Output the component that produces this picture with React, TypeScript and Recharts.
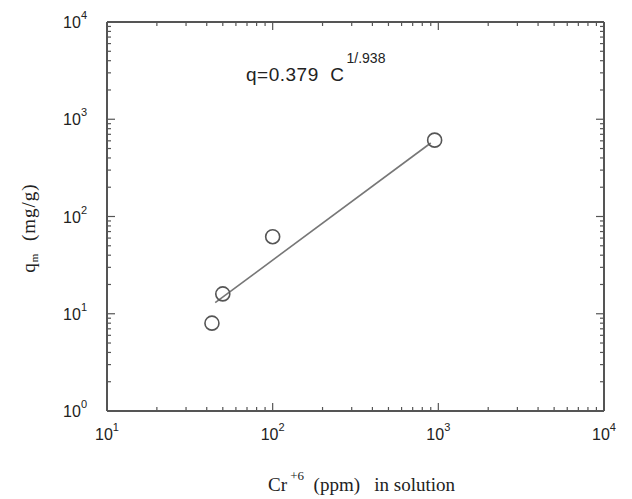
import { Scatter, ScatterChart, XAxis, YAxis } from "recharts";

// measured points (Cr+6 ppm, q mg/g)
const concentration = [43, 50, 100, 950];
const uptake = [8, 16, 62, 610];

// fitted line end points as drawn
const fitC = [45, 900];
const fitQ = [13, 570];

const xMajor = [10, 100, 1000, 10000];
const yMajor = [1, 10, 100, 1000, 10000];
const minorSteps = [2, 3, 4, 5, 6, 7, 8, 9];
const xMinor = [10, 100, 1000].flatMap((d) => minorSteps.map((m) => m * d));
const yMinor = [1, 10, 100, 1000].flatMap((d) => minorSteps.map((m) => m * d));

const points = concentration.map((c, i) => ({ c, q: uptake[i] }));
const fit = fitC.map((c, i) => ({ c, q: fitQ[i] }));

const INK = "#555";
const sans = "'Liberation Sans', Arial, sans-serif";
const serif = "'Liberation Serif', 'Times New Roman', serif";

type Side = "bottom" | "top" | "left" | "right";

// draws the inward tick itself (long for decades, short otherwise) and the 10^n label on bottom/left
const makeTick = (side: Side, majors: number[]) => (props: any) => {
  const { x, y, payload } = props;
  const v = payload.value;
  const major = majors.includes(v);
  const len = major ? 8 : 4;
  const dx = side === "left" ? len : side === "right" ? -len : 0;
  const dy = side === "bottom" ? -len : side === "top" ? len : 0;
  const n = Math.round(Math.log10(v));
  return (
    <g>
      <line x1={x} y1={y} x2={x + dx} y2={y + dy} stroke={INK} strokeWidth={1.2} />
      {major && side === "bottom" && (
        <text x={x} y={y + 29} textAnchor='middle' fontFamily={sans} fontSize={16} fill='#222'>
          10
          <tspan dy={-9} fontSize={11}>
            {n}
          </tspan>
        </text>
      )}
      {major && side === "left" && (
        <text x={x - 20} y={y + 6} textAnchor='end' fontFamily={sans} fontSize={16} fill='#222'>
          10
          <tspan dy={-9} fontSize={11}>
            {n}
          </tspan>
        </text>
      )}
    </g>
  );
};

const Blank = () => <g />;
const Ring = ({ cx, cy }: any) => <circle cx={cx} cy={cy} r={7} fill='none' stroke={INK} strokeWidth={1.6} />;

const xTicks = [...xMajor, ...xMinor];
const yTicks = [...yMajor, ...yMinor];
const frame = { mirror: true, interval: 0 as const, minTickGap: 0, tickSize: 0, tickMargin: 0, tickLine: false, axisLine: { stroke: INK, strokeWidth: 2 } };
const xProps = { ...frame, type: "number" as const, scale: "log" as const, domain: [10, 10000], allowDataOverflow: true, dataKey: "c", ticks: xTicks, height: 1 };
const yProps = { ...frame, type: "number" as const, scale: "log" as const, domain: [1, 10000], allowDataOverflow: true, dataKey: "q", ticks: yTicks, width: 1 };

export default function App() {
  return (
    <div style={{ position: "absolute", left: 0, top: 0, width: 632, height: 499, background: "#fff" }}>
      <ScatterChart width={632} height={499} margin={{ top: 22, right: 28, bottom: 88, left: 107 }}>
        <XAxis xAxisId='main' {...xProps} orientation='bottom' tick={makeTick("bottom", xMajor)} />
        <XAxis xAxisId='top' {...xProps} orientation='top' tick={makeTick("top", xMajor)} />
        <YAxis yAxisId='main' {...yProps} orientation='left' tick={makeTick("left", yMajor)} />
        <YAxis yAxisId='right' {...yProps} orientation='right' tick={makeTick("right", yMajor)} />

        <Scatter xAxisId='main' yAxisId='main' data={fit} line={{ stroke: "#777", strokeWidth: 1.6 }} shape={<Blank />} isAnimationActive={false} />
        <Scatter xAxisId='main' yAxisId='main' data={points} shape={<Ring />} isAnimationActive={false} />
      </ScatterChart>

      <div style={{ position: "absolute", left: 246, top: 64, fontFamily: sans, fontSize: 19, letterSpacing: 0.5, color: "#222", whiteSpace: "pre" }}>
        q=0.379  C
        <span style={{ position: "relative", top: -18, marginLeft: 2, fontSize: 14, letterSpacing: 0 }}>1/.938</span>
      </div>

      <div style={{ position: "absolute", left: 268, top: 474, fontFamily: serif, fontSize: 19, color: "#222", whiteSpace: "pre" }}>
        Cr<span style={{ position: "relative", top: -11, fontSize: 13 }}> +6</span>  (ppm)   in solution
      </div>

      <div style={{ position: "absolute", left: 29, top: 228, transform: "translate(-50%, -50%) rotate(-90deg)", fontFamily: serif, fontSize: 19, letterSpacing: 1, color: "#222", whiteSpace: "pre" }}>
        q<span style={{ fontSize: 11, position: "relative", top: 3 }}>m</span>  (mg/g)
      </div>
    </div>
  );
}
